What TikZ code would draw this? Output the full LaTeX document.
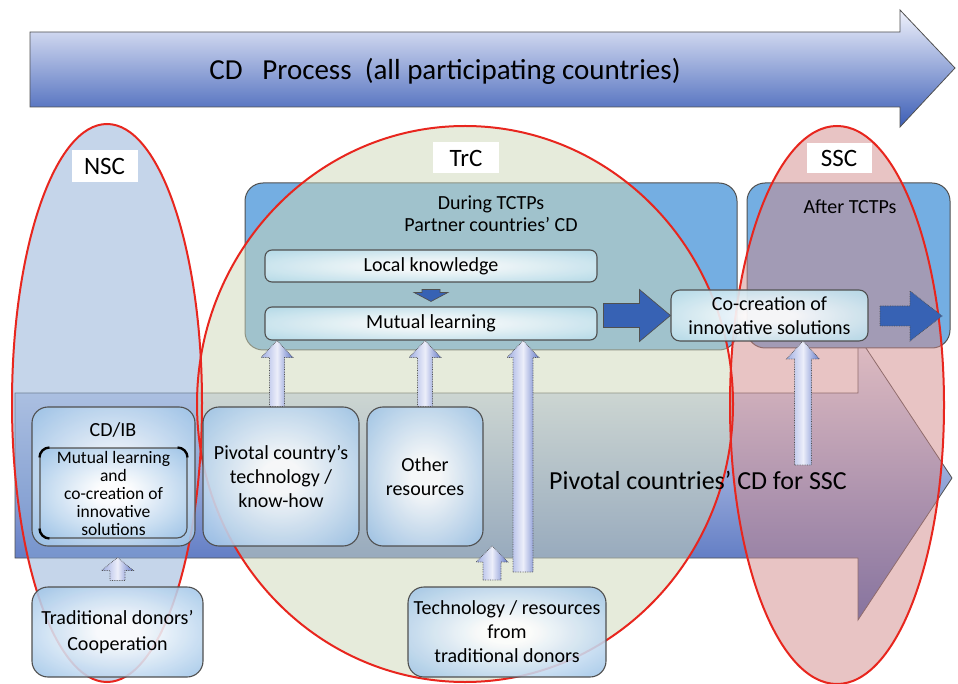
\documentclass[tikz,border=0pt]{standalone}
\usepackage{fontspec}
\setmainfont{Carlito}
\usetikzlibrary{calc}
\definecolor{edge}{RGB}{80,80,80}
\definecolor{redline}{RGB}{232,38,30}
\definecolor{nscfill}{RGB}{139,171,213}
\definecolor{trcfill}{RGB}{205,215,183}
\definecolor{sscfill}{RGB}{209,137,137}
\definecolor{phasebox}{RGB}{116,174,226}
\definecolor{boxouter}{RGB}{112,168,220}
\definecolor{cyanouter}{RGB}{150,205,225}
\definecolor{darkarrow}{RGB}{55,98,180}
\definecolor{arrtop}{RGB}{240,242,252}
\definecolor{arrbot}{RGB}{60,94,182}
\definecolor{uplight}{RGB}{236,238,250}
\definecolor{upside}{RGB}{160,174,226}
\definecolor{updark}{RGB}{100,122,200}
\pgfdeclareradialshading{glowblue}{\pgfpoint{0bp}{0bp}}{color(0bp)=(white); color(6bp)=(white); color(48bp)=(boxouter); color(75bp)=(boxouter)}
\pgfdeclareradialshading{glowcyan}{\pgfpoint{0bp}{0bp}}{color(0bp)=(white); color(6bp)=(white); color(48bp)=(cyanouter); color(75bp)=(cyanouter)}
\tikzset{
  txt/.style={font=\fontsize{20}{24}\selectfont, align=center, inner sep=0pt},
  phase/.style={draw=edge, line width=1pt, fill=phasebox, rounded corners=18pt, inner sep=0pt},
  bluebox/.style={txt, draw=edge, line width=1.1pt, rounded corners=16pt, shade, shading=glowblue, fill opacity=0.88, text opacity=1},
  cyanbox/.style={txt, draw=edge, line width=1.1pt, rounded corners=7pt, shade, shading=glowcyan, fill opacity=0.9, text opacity=1},
  tag/.style={fill=white, inner sep=0pt, font=\fontsize{25}{28}\selectfont},
  ring/.style={draw=redline, line width=2pt},
  cornermark/.style={draw=black, line width=2.2pt},
  upblk/.style={left color=upside, right color=updark, middle color=uplight, draw=edge, densely dotted, line width=0.7pt},
  rblk/.style={fill=darkarrow, draw=edge, line width=0.7pt},
}
\newcommand\UpBlock[6][]{%
  \path[upblk,#1] let \p1=#2, \p2=#3 in ({\x1-#4},\y1) -- ({\x1-#4},{\y2-#6}) -- ({\x1-#5},{\y2-#6}) -- (\x1,\y2) -- ({\x1+#5},{\y2-#6}) -- ({\x1+#4},{\y2-#6}) -- ({\x1+#4},\y1) -- cycle;}
\newcommand\RightBlock[6][]{%
  \path[rblk,#1] let \p1=#2, \p2=#3 in (\x1,{\y2+#4}) -- ({\x2-#6},{\y2+#4}) -- ({\x2-#6},{\y2+#5}) -- (\x2,\y2) -- ({\x2-#6},{\y2-#5}) -- ({\x2-#6},{\y2-#4}) -- (\x1,{\y2-#4}) -- cycle;}
\newcommand\DownBlock[6][]{%
  \path[rblk,#1] let \p1=#2, \p2=#3 in ({\x1-#4},\y1) -- ({\x1-#4},{\y2+#6}) -- ({\x1-#5},{\y2+#6}) -- (\x1,\y2) -- ({\x1+#5},{\y2+#6}) -- ({\x1+#4},{\y2+#6}) -- ({\x1+#4},\y1) -- cycle;}
\begin{document}
\begin{tikzpicture}[x=1pt,y=-1pt]
\useasboundingbox (0,0) rectangle (958,684);
% top process arrow
\path[draw=edge, line width=0.8pt, top color=arrtop, bottom color=arrbot]
  (30,32) -- (900,32) -- (900,10) -- (955,68) -- (900,127) -- (900,107) -- (30,107) -- cycle;
\node[txt, font=\fontsize{29}{32}\selectfont] (title) at (445,71) {CD\ \ \ Process\ \ (all participating countries)};
% bottom pivotal arrow
\path[draw=edge, line width=0.8pt, top color=arrtop, bottom color=arrbot]
  (15,393) -- (858,393) -- (858,336) -- (952,478) -- (858,620) -- (858,558) -- (15,558) -- cycle;
% phase boxes
\node[phase, minimum width=492, minimum height=167] (during) at (491,266.5) {};
\node[phase, minimum width=203, minimum height=165] (after) at (848.5,265.5) {};
% ellipses
\fill[nscfill, fill opacity=0.5] (107,403) ellipse [x radius=95pt, y radius=279pt];
\fill[trcfill, fill opacity=0.5] (465,404) ellipse [x radius=268pt, y radius=278pt];
\fill[sscfill, fill opacity=0.5] (837,405) ellipse [x radius=107pt, y radius=279pt];
\draw[ring] (107,403) ellipse [x radius=95pt, y radius=279pt];
\draw[ring] (465,404) ellipse [x radius=268pt, y radius=278pt];
\draw[ring] (837,405) ellipse [x radius=107pt, y radius=279pt];
% tags
\node[tag, minimum width=66, minimum height=32] (nsc) at (104.5,166) {NSC};
\node[tag, minimum width=66, minimum height=31] (trc) at (466,158) {TrC};
\node[tag, minimum width=65, minimum height=30] (ssc) at (839,158) {SSC};
% phase texts
\node[txt, font=\fontsize{20}{22}\selectfont] (durtxt) at (491,214) {During TCTPs\\Partner countries’ CD};
\node[txt] (afttxt) at (850,207) {After TCTPs};
\node[txt, font=\fontsize{26}{30}\selectfont] (pivtxt) at (698,480) {Pivotal countries’ CD for SSC};
% inner boxes
\node[cyanbox, minimum width=332, minimum height=32] (local) at (431,266) {Local knowledge};
\node[cyanbox, minimum width=332, minimum height=33] (mutual) at (431,323.5) {Mutual learning};
\node[cyanbox, rounded corners=9pt, minimum width=197, minimum height=51] (cocreation) at (769.5,315.5) {Co-creation of\\innovative solutions};
\node[bluebox, minimum width=163, minimum height=139] (cdib) at (113.5,476.5) {};
\node[txt] (cdibtxt) at (113,430) {CD/IB};
\node[bluebox, rounded corners=10pt, minimum width=147, minimum height=90, font=\fontsize{17.5}{18}\selectfont] (inner) at (113.5,493) {Mutual learning\\and\\co-creation of\\innovative\\solutions};
\draw[cornermark] ($(inner.north west)+(0,10)$) arc[start angle=180, end angle=90, radius=10pt];
\draw[cornermark] ($(inner.north east)+(-10,0)$) arc[start angle=90, end angle=0, radius=10pt];
\draw[cornermark] ($(inner.south west)+(0,-10)$) arc[start angle=180, end angle=270, radius=10pt];
\node[bluebox, minimum width=156, minimum height=139] (pivot) at (281,476.5) {Pivotal country’s\\technology /\\know-how};
\node[bluebox, minimum width=116, minimum height=139] (other) at (425,476.5) {Other\\resources};
\node[bluebox, minimum width=171, minimum height=90, font=\fontsize{20}{26}\selectfont] (trad) at (117.5,632) {Traditional donors’\\Cooperation};
\node[bluebox, minimum width=198, minimum height=90] (tech) at (507,632) {Technology / resources\\from\\traditional donors};
% free ends
\coordinate (tallbot) at (523,572);
\coordinate (smallbot) at (492,580);
\coordinate (smalltop) at (492,546);
\coordinate (cobot) at (803,465);
\coordinate (cotop) at (803,341);
\coordinate (aftstart) at (880,316);
\coordinate (afttip) at (942,316);
% connectors
\UpBlock{($(trad.north)+(0,-6)$)}{($(cdib.south)+(0,11)$)}{7.5pt}{16pt}{13pt}
\UpBlock{($(pivot.north)+(-4,0)$)}{(pivot.north |- mutual.south)}{7.5pt}{16pt}{17pt}
\UpBlock{(other.north)}{(other.north |- mutual.south)}{7.5pt}{16pt}{17pt}
\UpBlock{(tallbot)}{(tallbot |- mutual.south)}{10pt}{16pt}{17pt}
\UpBlock{(smallbot)}{(smalltop)}{9pt}{16pt}{16pt}
\UpBlock{(cobot)}{(cotop)}{8.5pt}{16.5pt}{18pt}
\DownBlock{($(local.south)+(0,7)$)}{($(mutual.north)+(0,-5)$)}{9pt}{17pt}{9pt}
\RightBlock{($(mutual.east)+(6,0)$)}{(cocreation.west)}{12pt}{26pt}{31pt}
\RightBlock[densely dotted]{(aftstart)}{(afttip)}{10pt}{25pt}{32pt}
\end{tikzpicture}
\end{document}
